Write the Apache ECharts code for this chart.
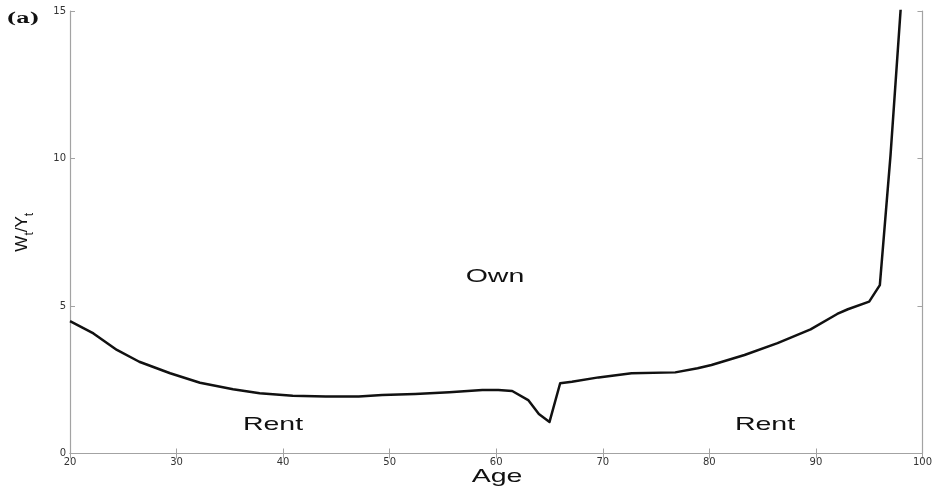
<!DOCTYPE html>
<html>
<head>
<meta charset="utf-8">
<script src="https://cdn.jsdelivr.net/npm/echarts@6/dist/echarts.min.js"></script>
<style>
  html, body { margin: 0; padding: 0; background: #fff; }
  #chart { width: 935px; height: 488px; }
</style>
</head>
<body>
<div id="chart"></div>
<script>
// Wealth-to-income ratio over the life cycle
const ages = [20, 22.2, 24.4, 26.5, 29.4, 32.2, 35.3, 37.8, 40.9, 44.0, 47.1, 49.3, 52.4, 55.6, 58.7,
              60.2, 61.5, 63.0, 64.0, 65.0, 66.0, 67.1, 69.6, 72.7, 76.8, 78.9, 80.2, 83.3, 86.4,
              89.5, 92.0, 93.0, 95.0, 96.0, 97.0, 98.0];
const ratio = [4.49, 4.07, 3.51, 3.11, 2.72, 2.40, 2.18, 2.04, 1.96, 1.93, 1.93, 1.98, 2.02, 2.08, 2.15,
               2.15, 2.12, 1.81, 1.34, 1.07, 2.38, 2.43, 2.58, 2.72, 2.75, 2.89, 3.00, 3.34, 3.74,
               4.21, 4.73, 4.89, 5.15, 5.71, 10.1, 15.3];
const xTicks = { min: 20, max: 100, step: 10 };
const yTicks = { min: 0, max: 15, step: 5 };
const regionLabels = ['Own', 'Rent', 'Rent'];

const chart = echarts.init(document.getElementById('chart'));

const axisGray = '#a3a3a3';
const tickFont = { fontFamily: 'DejaVu Sans', fontSize: 10, color: '#333' };
const labelFont = 'Liberation Sans';

function xAxisDef(pos, showLabels) {
  return {
    type: 'value', position: pos,
    min: xTicks.min, max: xTicks.max, interval: xTicks.step,
    axisLine: { show: true, lineStyle: { color: axisGray, width: 1.2 } },
    axisTick: { show: true, inside: true, length: 5, lineStyle: { color: axisGray } },
    axisLabel: Object.assign({ show: showLabels, margin: 4 }, tickFont),
    splitLine: { show: false }
  };
}
function yAxisDef(pos, showLabels) {
  return {
    type: 'value', position: pos,
    min: yTicks.min, max: yTicks.max, interval: yTicks.step,
    axisLine: { show: true, lineStyle: { color: axisGray, width: 1.2 } },
    axisTick: { show: true, inside: true, length: 5, lineStyle: { color: axisGray } },
    axisLabel: Object.assign({ show: showLabels, margin: 4 }, tickFont),
    splitLine: { show: false }
  };
}

const yLeft = yAxisDef('left', true);
yLeft.name = '{m|W}{s|t}{m|/Y}{s|t}';
yLeft.nameLocation = 'middle';
yLeft.nameRotate = 90;
yLeft.nameGap = 34;
yLeft.nameTextStyle = {
  rich: {
    m: { fontFamily: labelFont, fontSize: 17, color: '#111', verticalAlign: 'top', lineHeight: 22 },
    s: { fontFamily: labelFont, fontSize: 12, color: '#111', verticalAlign: 'bottom', lineHeight: 22, padding: [9, 0, 0, 0] }
  }
};

const stretch = 1.5;
function label(text, x, y, size, family, weight) {
  return {
    type: 'text', x: x, y: y, scaleX: stretch,
    style: {
      text: text, fill: '#111',
      font: (weight || 'normal') + ' ' + size + 'px "' + family + '"',
      textAlign: 'center', textVerticalAlign: 'middle'
    }
  };
}

chart.setOption({
  animation: false,
  grid: { left: 70, right: 10, top: 11, bottom: 34.5, containLabel: false },
  xAxis: [xAxisDef('bottom', true), xAxisDef('top', false)],
  yAxis: [yLeft, yAxisDef('right', false)],
  series: [{
    type: 'line',
    data: ages.map((a, i) => [a, ratio[i]]),
    showSymbol: false,
    smooth: false,
    clip: true,
    lineStyle: { color: '#111', width: 2.5, join: 'round' }
  }],
  graphic: [
    label('(a)', 23, 19, 14, 'DejaVu Serif', 'bold'),
    label(regionLabels[0], 495, 277, 19, labelFont),
    label(regionLabels[1], 273, 425, 19, labelFont),
    label(regionLabels[2], 765, 425, 19, labelFont),
    label('Age', 497, 477, 19, labelFont)
  ]
});
</script>
</body>
</html>
